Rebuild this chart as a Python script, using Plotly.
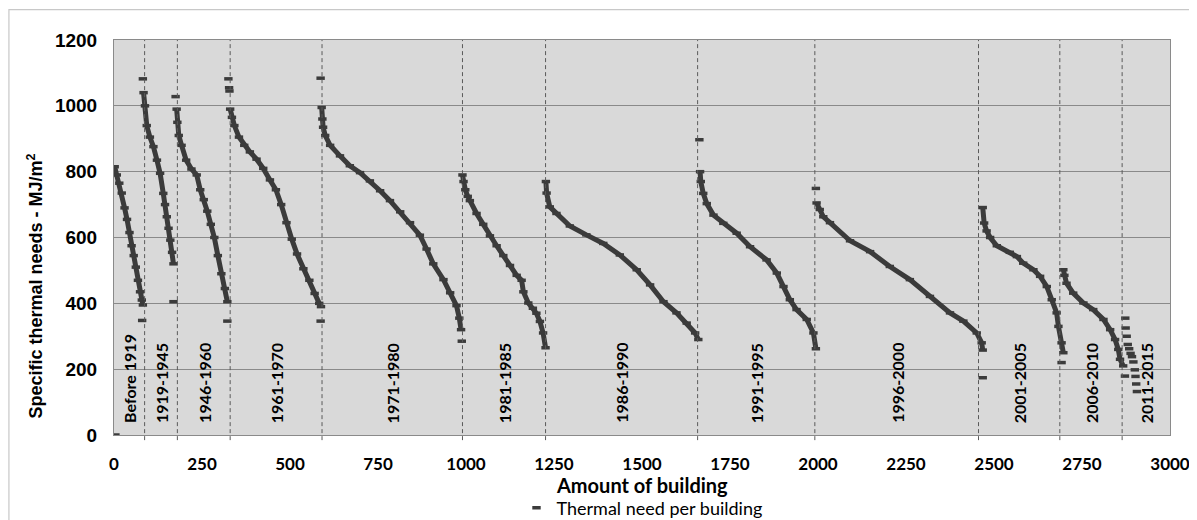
import plotly.graph_objects as go

# ---------------- data ----------------
periods = ["Before 1919", "1919-1945", "1946-1960", "1961-1970", "1971-1980", "1981-1985",
           "1986-1990", "1991-1995", "1996-2000", "2001-2005", "2006-2010", "2011-2015"]
# building index at which each new period starts (dashed separators)
dividers = [87, 180, 330, 591, 990, 1226, 1658, 1991, 2456, 2687, 2864]
x_max = 3000

x_p1 = [2, 8, 15, 22, 30, 37, 44, 50, 56, 62, 68, 74, 79, 82]
y_p1 = [815, 790, 765, 735, 690, 655, 615, 575, 545, 510, 470, 435, 410, 395]

x_p2 = [84, 88, 93, 102, 112, 122, 131, 140, 145, 150, 155, 160, 165, 169]
y_p2 = [1040, 1000, 940, 905, 876, 835, 795, 734, 700, 663, 628, 592, 555, 520]

x_p3 = [178, 180, 184, 192, 205, 220, 235, 245, 255, 265, 275, 285, 295, 305, 315, 322]
y_p3 = [990, 950, 910, 880, 835, 808, 790, 745, 715, 680, 640, 600, 545, 490, 445, 405]

x_p4 = [330, 335, 342, 355, 370, 386, 405, 424, 443, 460, 475, 490, 505, 520, 538, 555, 570, 583, 588]
y_p4 = [990, 965, 940, 905, 880, 860, 838, 810, 775, 745, 700, 645, 595, 550, 505, 470, 430, 400, 390]

x_p5 = [590, 592, 594, 600, 614, 642, 670, 699, 727, 756, 784, 813, 841, 869, 888, 907, 936, 955, 973, 981, 986]
y_p5 = [995, 960, 935, 910, 880, 848, 818, 797, 772, 742, 712, 678, 645, 607, 565, 520, 472, 432, 393, 355, 320]

x_p6 = [990, 993, 998, 1005, 1011, 1030, 1049, 1068, 1087, 1106, 1125, 1144, 1158, 1163, 1177, 1190, 1200, 1210, 1219, 1226]
y_p6 = [790, 770, 745, 725, 712, 673, 640, 605, 575, 545, 515, 485, 470, 435, 401, 385, 370, 345, 310, 265]

x_p7 = [1227, 1229, 1238, 1257, 1295, 1342, 1390, 1437, 1485, 1523, 1561, 1598, 1627, 1651, 1660]
y_p7 = [770, 735, 693, 673, 635, 608, 582, 547, 502, 456, 405, 371, 340, 310, 290]

x_p8 = [1665, 1667, 1674, 1684, 1703, 1731, 1769, 1807, 1854, 1883, 1902, 1920, 1939, 1968, 1987, 1994]
y_p8 = [800, 770, 734, 703, 668, 643, 613, 572, 532, 492, 451, 411, 381, 351, 310, 262]

x_p9 = [1996, 2005, 2015, 2034, 2091, 2148, 2204, 2261, 2318, 2375, 2413, 2451, 2465, 2468]
y_p9 = [705, 685, 663, 645, 590, 557, 512, 472, 421, 371, 346, 310, 280, 258]

x_p10 = [2468, 2472, 2479, 2489, 2508, 2545, 2565, 2583, 2612, 2631, 2650, 2664, 2678, 2683, 2692, 2697]
y_p10 = [691, 644, 620, 600, 575, 555, 542, 522, 502, 482, 451, 411, 371, 330, 280, 250]

x_p11 = [2697, 2700, 2706, 2725, 2754, 2782, 2811, 2830, 2844, 2853, 2858, 2867]
y_p11 = [502, 485, 461, 431, 401, 381, 351, 320, 290, 260, 230, 210]

# scattered buildings that are not part of a continuous run
x_scatter = [4, 80, 82, 169, 175, 322, 325, 327, 328, 587, 587, 988, 1663, 1994, 2468, 2692,
             2872, 2873, 2874, 2877, 2880, 2884, 2888, 2892, 2896, 2900, 2902, 2904, 2906]
y_scatter = [0, 348, 1082, 405, 1028, 346, 1082, 1055, 1045, 346, 1084, 285, 897, 749, 174, 220,
             179, 355, 325, 300, 275, 262, 248, 238, 222, 198, 178, 155, 132]

curves_x = [x_p1, x_p2, x_p3, x_p4, x_p5, x_p6, x_p7, x_p8, x_p9, x_p10, x_p11]
curves_y = [y_p1, y_p2, y_p3, y_p4, y_p5, y_p6, y_p7, y_p8, y_p9, y_p10, y_p11]

# ---------------- figure ----------------
DARK = "#3b3b3b"
line_x, line_y = [], []
for cx, cy in zip(curves_x, curves_y):
    line_x += cx + [None]
    line_y += cy + [None]

pts_x = [v for cx in curves_x for v in cx] + x_scatter
pts_y = [v for cy in curves_y for v in cy] + y_scatter

fig = go.Figure()
fig.add_trace(go.Scatter(x=line_x, y=line_y, mode="lines", showlegend=False,
                         line=dict(color=DARK, width=5), hoverinfo="skip",
                         connectgaps=False))
fig.add_trace(go.Scatter(x=pts_x, y=pts_y, mode="markers", name="Thermal need per building",
                         marker=dict(symbol="line-ew", size=6, color=DARK,
                                     line=dict(color=DARK, width=3.5))))

shapes = []
for d in dividers:
    shapes.append(dict(type="line", xref="x", yref="paper", x0=d, x1=d, y0=-0.013, y1=1,
                       line=dict(color="#5a5a5a", width=1, dash="4px,3px"), layer="above"))
# outer chart frame
shapes.append(dict(type="rect", xref="paper", yref="paper", x0=-0.0995, x1=1.03, y0=-0.26, y1=1.077,
                   line=dict(color="#c8c8c8", width=1.2), fillcolor="rgba(0,0,0,0)"))

bounds = [0] + dividers + [x_max]
annotations = []
for i, p in enumerate(periods):
    annotations.append(dict(x=(bounds[i] + bounds[i + 1]) / 2, y=30, xref="x", yref="y",
                            text=p, textangle=-90, showarrow=False, xanchor="center", yanchor="bottom",
                            font=dict(family="Lato", size=16, color="black", weight="bold")))
annotations.append(dict(x=-0.0748, y=0.376, xref="paper", yref="paper",
                        text="Specific thermal needs - MJ/m<sup>2</sup>", textangle=-90, showarrow=False,
                        xanchor="center", yanchor="middle",
                        font=dict(family="Liberation Sans", size=18, color="black", weight="bold")))
annotations.append(dict(x=0.5, y=-0.1266, xref="paper", yref="paper", text="Amount of building",
                        showarrow=False, xanchor="center", yanchor="middle",
                        font=dict(family="Lato", size=20, color="black", weight="bold")))

fig.update_layout(
    width=1189, height=512,
    margin=dict(l=106, r=27, t=32, b=85, autoexpand=False),
    paper_bgcolor="white", plot_bgcolor="#d9d9d9",
    shapes=shapes, annotations=annotations,
    showlegend=True,
    legend=dict(orientation="h", x=0.5, xanchor="center", y=-0.185, yanchor="middle",
                font=dict(family="Lato", size=18, color="black"), bgcolor="rgba(0,0,0,0)",
                itemwidth=30),
    xaxis=dict(range=[0, x_max], dtick=250, tick0=0, showgrid=False, zeroline=False,
               showline=True, linecolor="#8a8a8a", linewidth=1, mirror=True, ticks="",
               ticklabelstandoff=14, automargin=False,
               tickfont=dict(family="Lato", size=17, color="black", weight="bold")),
    yaxis=dict(range=[0, 1200], dtick=200, tick0=0, showgrid=True, gridcolor="#8a8a8a", gridwidth=1,
               zeroline=False, showline=True, linecolor="#8a8a8a", linewidth=1, mirror=True, ticks="",
               ticklabelstandoff=12, automargin=False,
               tickfont=dict(family="Liberation Sans", size=19, color="black", weight="bold")),
)

fig.write_html("out.html")
